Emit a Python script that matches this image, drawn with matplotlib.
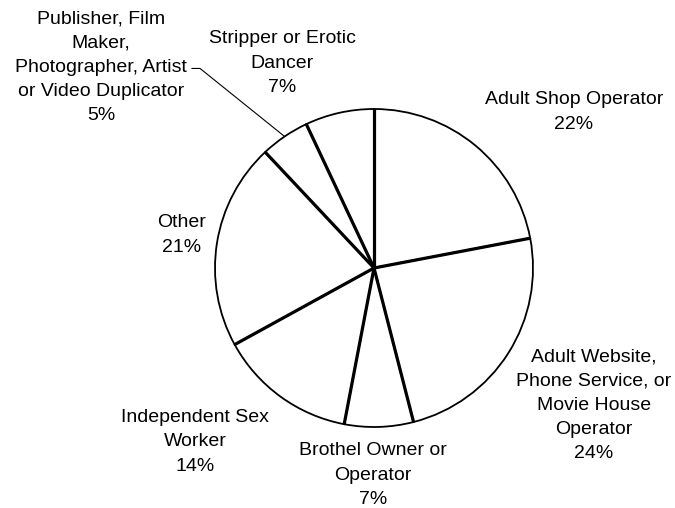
import numpy as np
import matplotlib
matplotlib.use("Agg")
import matplotlib.pyplot as plt

# slice data (percent), clockwise from 12 o'clock
labels = ["Adult Shop Operator",
          "Adult Website,\nPhone Service, or\nMovie House\nOperator",
          "Brothel Owner or\nOperator",
          "Independent Sex\nWorker",
          "Other",
          "Publisher, Film\nMaker,\nPhotographer, Artist\nor Video Duplicator",
          "Stripper or Erotic\nDancer"]
values = [22, 24, 7, 14, 21, 5, 7]

# label block centres (pie radius = 1)
label_pos = [(1.258, 0.981), (1.384, -0.862), (-0.006, -1.302),
             (-1.126, -1.094), (-1.208, 0.208), (-1.717, 1.262),
             (-0.579, 1.289)]

plt.rcParams['font.family'] = ['Liberation Sans', 'DejaVu Sans']

fig = plt.figure(figsize=(6.75, 5.08), dpi=100)
ax = fig.add_axes([0, 0, 1, 1])

wedges, _ = ax.pie(values, startangle=90, counterclock=False,
                   colors=['white'] * len(values),
                   wedgeprops=dict(edgecolor='black', linewidth=1.3))

# thicker radial edges
angles = 90 - np.cumsum([0] + values) / 100.0 * 360
for a in angles[:-1]:
    r = np.radians(a)
    ax.plot([0, np.cos(r)], [0, np.sin(r)], color='black', lw=2.3,
            solid_capstyle='butt')

for lab, v, (x, y) in zip(labels, values, label_pos):
    ax.text(x, y, f"{lab}\n{v}%", ha='center', va='center',
            fontsize=14, linespacing=1.55)

# leader line for the small Publisher slice
mid = np.radians((angles[5] + angles[6]) / 2)
ax.plot([-1.145, -1.094, np.cos(mid)], [1.255, 1.255, np.sin(mid)],
        color='black', lw=0.8)

ax.set_aspect('auto')
ax.set_xlim(-374 / 159, 301 / 159)
ax.set_ylim(-240 / 159, 268 / 159)
ax.axis('off')

fig.savefig('out.png', dpi=100)
